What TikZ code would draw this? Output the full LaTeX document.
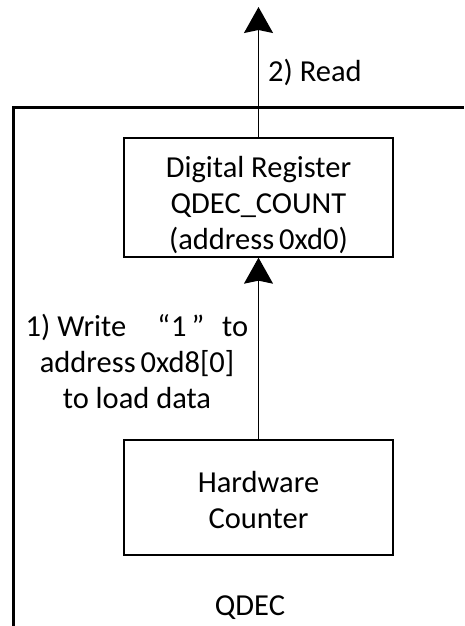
\documentclass[tikz,border=0pt]{standalone}
\usepackage{fontspec}
\setmainfont{Carlito}
\usetikzlibrary{arrows.meta}
\begin{document}
\begin{tikzpicture}[x=1pt,y=-1pt,
  box/.style={draw, line width=1.3pt, minimum width=269pt, align=center, inner sep=0pt},
  lbl/.style={align=center, inner sep=0pt, font=\fontsize{30.5}{36}\selectfont},
  conn/.style={line width=1.3pt, -{Stealth[length=26pt,width=29pt,inset=3pt]}}]
\useasboundingbox (0,0) rectangle (464,626);
% frame
\draw[line width=3pt] (13,626) -- (13,107) -- (464,107);
% boxes
\node[box, minimum height=119pt] (reg) at (258.5,197.5) {};
\node[lbl] (regt) at (258.5,205) {Digital Register\\QDEC\_COUNT\\(address\hspace{-2pt} 0xd0)};
\node[box, minimum height=115pt] (hw) at (258.5,497.5) {};
\node[lbl] (hwt) at (258.5,500) {Hardware\\Counter};
\coordinate (top) at (258.5,7);
\draw[conn] (reg.north) -- (top);
\draw[conn] (hw.north) -- (reg.south);
\node[lbl, anchor=west] (rd) at (268,72) {2) Read};
\node[lbl] (wr) at (137,361) {1) Write\hspace{31pt}“\kern1pt1\kern5pt”\hspace{18pt}to\\address\hspace{-2pt} 0xd8[0]\\to load data};
\node[lbl] (q) at (250,608) {QDEC};
\end{tikzpicture}
\end{document}
